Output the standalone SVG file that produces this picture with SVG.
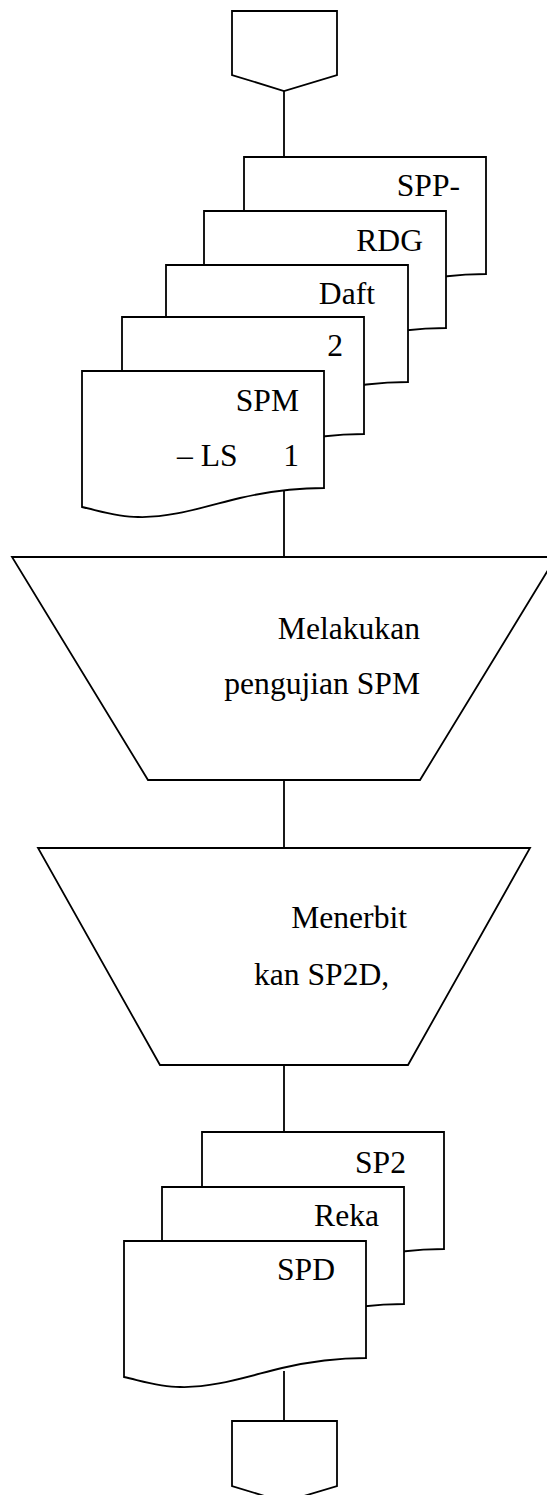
<svg xmlns="http://www.w3.org/2000/svg" width="547" height="1495" viewBox="0 0 547 1495">
  <defs>
    <style>
      .shape { fill: #ffffff; stroke: #000000; stroke-width: 1.8; stroke-linejoin: miter; }
      .link { fill: none; stroke: #000000; stroke-width: 1.8; }
      .lbl { font-family: "Liberation Serif", "Times New Roman", serif; font-size: 31.6px; fill: #000000; }
      .end { text-anchor: end; }
    </style>
    <!-- document sheet: 242 wide, wavy bottom edge -->
    <path id="doc" d="M0,0 H242 V117 C218,117 188,120 158,127 C118,137 88,147 56,146 C36,146 18,140 0,136 Z"/>
  </defs>

  <rect width="547" height="1495" fill="#ffffff"/>

  <!-- connectors -->
  <g id="connectors">
    <line class="link" x1="284" y1="91" x2="284" y2="157"/>
    <line class="link" x1="284" y1="491" x2="284" y2="557"/>
    <line class="link" x1="284" y1="780" x2="284" y2="848"/>
    <line class="link" x1="284" y1="1065" x2="284" y2="1132"/>
    <line class="link" x1="284" y1="1371" x2="284" y2="1421"/>
  </g>

  <!-- off-page connector (start) -->
  <g id="start">
    <path class="shape" d="M232,11 H337 V75 L284,91 L232,75 Z"/>
  </g>

  <!-- input document stack -->
  <g id="doc-spp">
    <use href="#doc" class="shape" x="244" y="157"/>
    <text class="lbl end" x="460" y="196">SPP-</text>
  </g>
  <g id="doc-rdg">
    <use href="#doc" class="shape" x="204" y="211"/>
    <text class="lbl end" x="423" y="251">RDG</text>
  </g>
  <g id="doc-daft">
    <use href="#doc" class="shape" x="166" y="265"/>
    <text class="lbl end" x="375" y="304">Daft</text>
  </g>
  <g id="doc-2">
    <use href="#doc" class="shape" x="122" y="317"/>
    <text class="lbl end" x="343" y="356">2</text>
  </g>
  <g id="doc-spm">
    <use href="#doc" class="shape" x="82" y="371"/>
    <text class="lbl end" x="299" y="411">SPM</text>
    <text class="lbl" x="177" y="466">– LS</text>
    <text class="lbl end" x="299" y="466">1</text>
  </g>

  <!-- manual operation: testing -->
  <g id="op-pengujian">
    <path class="shape" d="M12,557 H556 L420,780 H148 Z"/>
    <text class="lbl end" x="420" y="639">Melakukan</text>
    <text class="lbl end" x="420" y="694">pengujian SPM</text>
  </g>

  <!-- manual operation: issuing -->
  <g id="op-terbit">
    <path class="shape" d="M38,848 H530 L408,1065 H160 Z"/>
    <text class="lbl end" x="407" y="928">Menerbit</text>
    <text class="lbl" x="254" y="985">kan SP2D,</text>
  </g>

  <!-- output document stack -->
  <g id="doc-sp2">
    <use href="#doc" class="shape" x="202" y="1132"/>
    <text class="lbl end" x="406" y="1173">SP2</text>
  </g>
  <g id="doc-reka">
    <use href="#doc" class="shape" x="162" y="1187"/>
    <text class="lbl end" x="379" y="1226">Reka</text>
  </g>
  <g id="doc-spd">
    <use href="#doc" class="shape" x="124" y="1241"/>
    <text class="lbl end" x="335" y="1280">SPD</text>
  </g>

  <!-- off-page connector (end) -->
  <g id="end">
    <path class="shape" d="M232,1421 H337 V1486 L284,1502 L232,1486 Z"/>
  </g>
</svg>
